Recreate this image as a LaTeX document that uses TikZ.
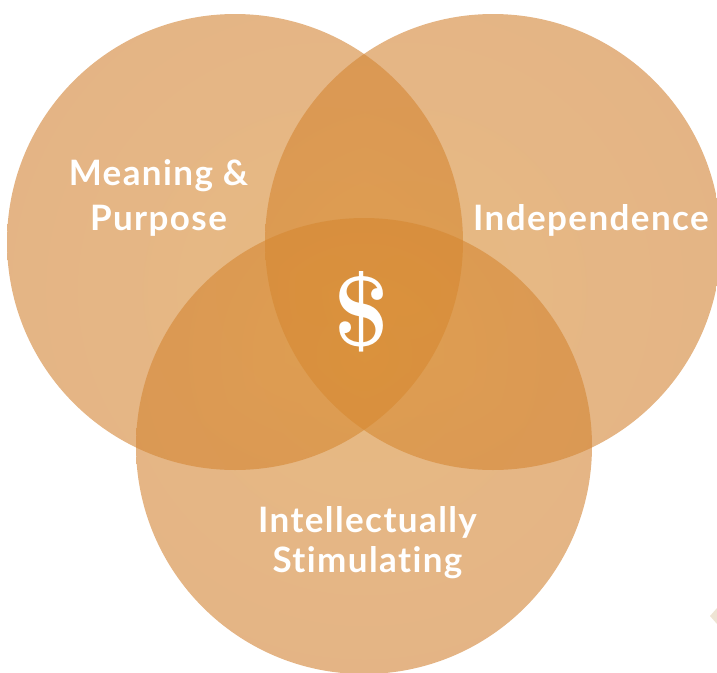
\documentclass[tikz,border=0pt]{standalone}
\usepackage{fontspec}
\newfontfamily\labelfont{Lato}[LetterSpace=4,Ligatures=NoCommon]
\usetikzlibrary{shadings}
\definecolor{vlight}{RGB}{216,140,48}
\definecolor{vdark}{RGB}{203,120,57}
\definecolor{markbeige}{RGB}{238,228,212}
\pgfdeclareradialshading{vennshade}{\pgfpoint{0bp}{0bp}}{color(0bp)=(vlight); color(50bp)=(vdark)}
\tikzset{
  lbl/.style={text=white, font=\labelfont\bfseries\fontsize{35}{40}\selectfont, anchor=base, inner sep=0pt},
  vennfill/.style={shading=vennshade, opacity=0.6}
}
\begin{document}
\begin{tikzpicture}[x=1pt,y=-1pt]
\useasboundingbox (0,0) rectangle (717,672);
\begin{scope}
\clip (0,0) rectangle (717,672);
% left circle
\begin{scope}
\clip (235,242) circle (228);
\shade[vennfill] (325,290) circle (330);
\end{scope}
% right circle
\begin{scope}
\clip (493,242) circle (228);
\shade[vennfill] (404,290) circle (330);
\end{scope}
% bottom circle
\begin{scope}
\clip (364,446) circle (228);
\shade[vennfill] (364,355) circle (320);
\end{scope}
\end{scope}
\fill[markbeige] (710,616) -- (717,608) -- (717,624) -- cycle;
\node[lbl] (m1) at (158.5,185) {Meaning \&};
\node[lbl] (m2) at (158.5,230) {Purpose};
\node[lbl] (ind) at (591,230) {Independence};
\node[lbl] (s1) at (367.5,532) {Intellectually};
\node[lbl] (s2) at (367.5,572) {Stimulating};
\node[text=white, anchor=base, inner sep=0pt, font=\bfseries\fontsize{100}{110}\selectfont] (dollar) at (362,346) {\$};
\end{tikzpicture}
\end{document}
